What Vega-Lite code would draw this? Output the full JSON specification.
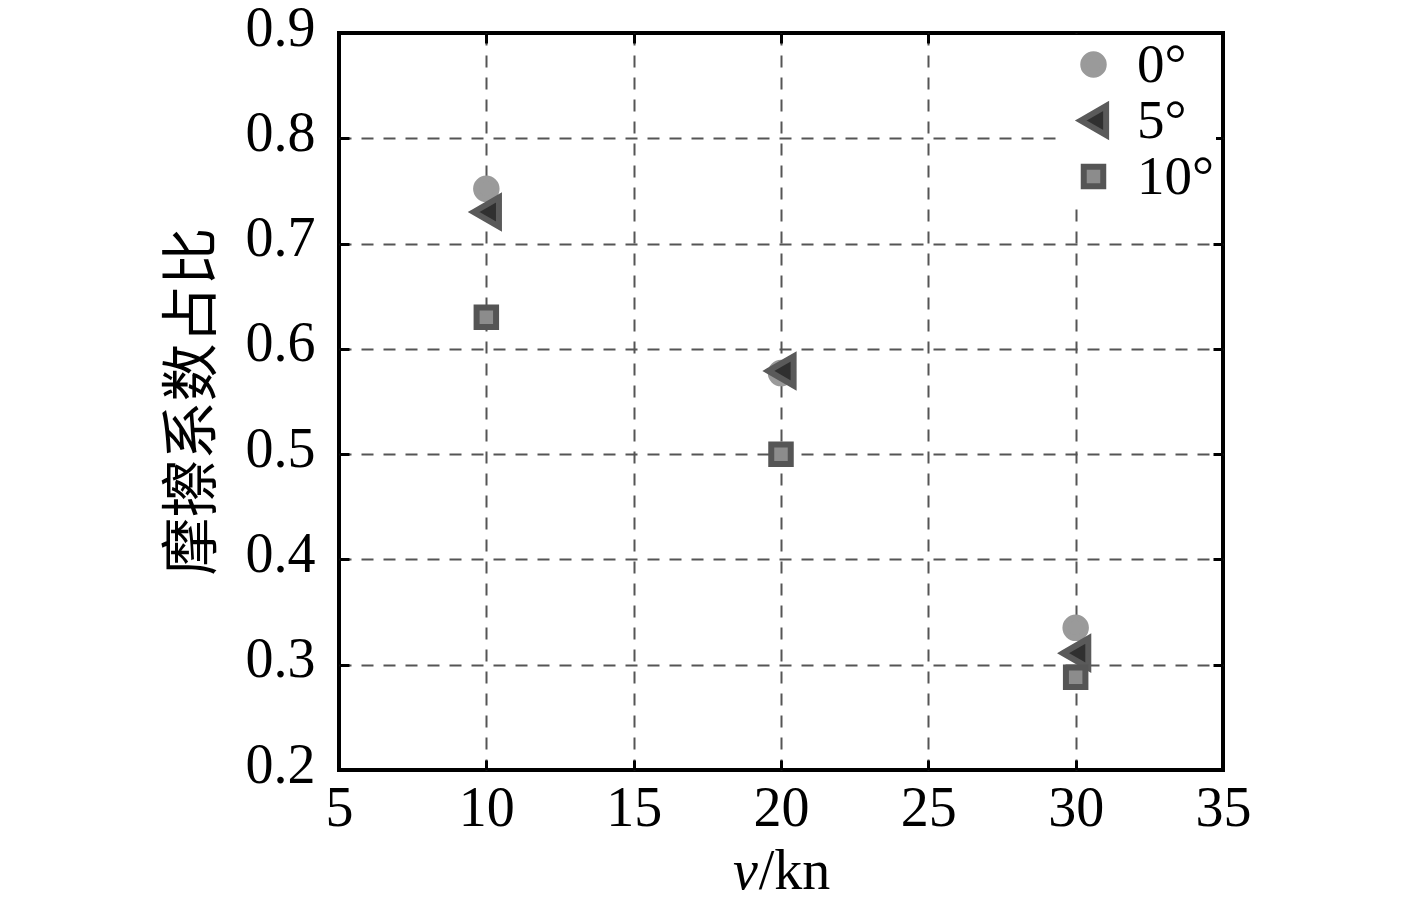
{
  "$schema": "https://vega.github.io/schema/vega-lite/v6.json",
  "width": 884,
  "height": 737,
  "autosize": {"type": "none"},
  "padding": {"left": 339, "top": 33, "right": 194, "bottom": 137},
  "background": "white",
  "config": {
    "view": {"stroke": "black", "strokeWidth": 4},
    "font": "Liberation Serif",
    "axis": {
      "domain": false,
      "tickColor": "black",
      "tickWidth": 3,
      "tickSize": -10,
      "gridColor": "#555555",
      "gridDash": [12, 10],
      "gridWidth": 2,
      "labelFont": "Liberation Serif",
      "labelFontSize": 56,
      "labelColor": "black",
      "labelFlush": false,
      "labelOverlap": false,
      "labelBound": false,
      "titleColor": "black",
      "titleFontWeight": "normal"
    }
  },
  "data": {
    "values": [
      {"v": 10, "ratio": 0.752, "angle": "0°"},
      {"v": 20, "ratio": 0.577, "angle": "0°"},
      {"v": 30, "ratio": 0.335, "angle": "0°"},
      {"v": 10, "ratio": 0.730, "angle": "5°"},
      {"v": 20, "ratio": 0.579, "angle": "5°"},
      {"v": 30, "ratio": 0.311, "angle": "5°"},
      {"v": 10, "ratio": 0.630, "angle": "10°"},
      {"v": 20, "ratio": 0.500, "angle": "10°"},
      {"v": 30, "ratio": 0.288, "angle": "10°"}
    ]
  },
  "layer": [
    {
      "mark": {"type": "point", "filled": true, "strokeWidth": 6, "opacity": 1},
      "encoding": {
        "x": {
          "field": "v", "type": "quantitative",
          "scale": {"domain": [5, 35], "nice": false, "zero": false},
          "axis": {
            "orient": "bottom",
            "values": [5, 10, 15, 20, 25, 30, 35],
            "grid": true,
            "gridOpacity": {"condition": {"test": "datum.value == 5 || datum.value == 35", "value": 0}, "value": 1},
            "labelBaseline": "alphabetic",
            "labelPadding": 65,
            "title": "/kn",
            "titleFont": "Liberation Serif",
            "titleFontSize": 56,
            "titleX": 455,
            "titleY": 118,
            "titleBaseline": "alphabetic",
            "titleAlign": "center"
          }
        },
        "y": {
          "field": "ratio", "type": "quantitative",
          "scale": {"domain": [0.2, 0.9], "nice": false, "zero": false},
          "axis": {
            "orient": "left",
            "values": [0.2, 0.3, 0.4, 0.5, 0.6, 0.7, 0.8, 0.9],
            "format": ".1f",
            "grid": true,
            "gridOpacity": {"condition": {"test": "datum.value < 0.25 || datum.value > 0.85", "value": 0}, "value": 1},
            "labelBaseline": "alphabetic",
            "labelOffset": 12,
            "labelPadding": 34,
            "title": "摩擦系数占比",
            "titleFont": "Noto Sans CJK SC",
            "titleFontSize": 58,
            "titleAngle": -90,
            "titleX": -146,
            "titleY": 368,
            "titleBaseline": "middle",
            "titleAlign": "center"
          }
        },
        "shape": {
          "field": "angle", "type": "nominal",
          "scale": {"domain": ["0°", "5°", "10°"], "range": ["circle", "triangle-left", "square"]},
          "legend": {
            "title": null,
            "orient": "none",
            "legendX": 725,
            "legendY": 2,
            "padding": 2,
            "fillColor": "white",
            "labelFont": "Liberation Serif",
            "labelFontSize": 55,
            "labelColor": "black",
            "labelOffset": 16,
            "rowPadding": 0,
            "symbolStrokeWidth": 6,
            "symbolOpacity": 1
          }
        },
        "fill": {
          "field": "angle", "type": "nominal",
          "scale": {"domain": ["0°", "5°", "10°"], "range": ["#9a9a9a", "#303030", "#8c8c8c"]}
        },
        "stroke": {
          "field": "angle", "type": "nominal",
          "scale": {"domain": ["0°", "5°", "10°"], "range": ["#9a9a9a", "#5a5a5a", "#555555"]}
        },
        "size": {
          "field": "angle", "type": "nominal",
          "scale": {"type": "ordinal", "domain": ["0°", "5°", "10°"], "range": [420, 850, 380]}
        }
      }
    },
    {
      "mark": {"type": "point", "opacity": 0},
      "encoding": {
        "x": {
          "field": "v", "type": "quantitative",
          "axis": {
            "orient": "top",
            "values": [5, 10, 15, 20, 25, 30, 35],
            "labels": false,
            "grid": false,
            "title": "v",
            "titleFont": "Liberation Serif",
            "titleFontSize": 56,
            "titleFontStyle": "italic",
            "titleX": 406,
            "titleY": 855,
            "titleBaseline": "alphabetic",
            "titleAlign": "center"
          }
        },
        "y": {
          "field": "ratio", "type": "quantitative",
          "axis": {
            "orient": "right",
            "values": [0.2, 0.3, 0.4, 0.5, 0.6, 0.7, 0.8, 0.9],
            "labels": false,
            "grid": false,
            "title": null
          }
        }
      }
    }
  ],
  "resolve": {"axis": {"x": "independent", "y": "independent"}}
}
